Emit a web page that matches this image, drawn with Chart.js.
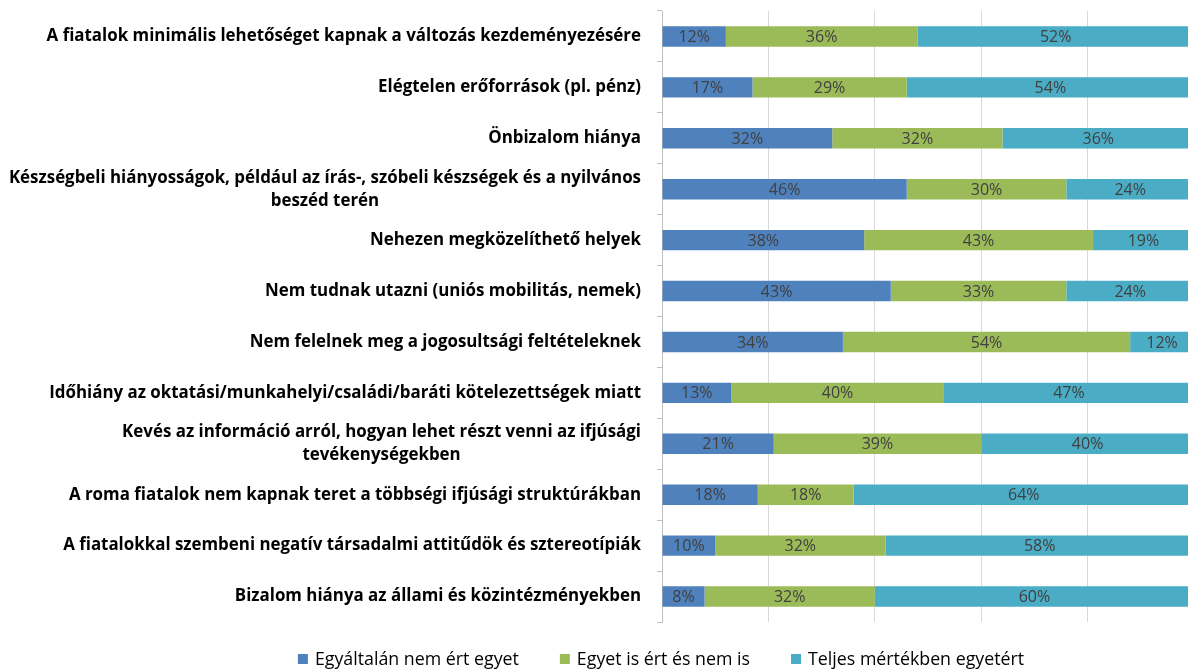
<!DOCTYPE html>
<html>
<head>
<meta charset="utf-8">
<script src="https://cdn.jsdelivr.net/npm/chart.js@4/dist/chart.umd.min.js"></script>
<style>
  html, body { margin: 0; padding: 0; background: #fff; overflow: hidden; }
  #wrap { width: 1188px; height: 669px; overflow: hidden; }
</style>
</head>
<body>
<div id="wrap"><canvas id="chart" width="1196" height="669"></canvas></div>
<script>
// categories (top to bottom)
const categories = [
    'A fiatalok minimális lehetőséget kapnak a változás kezdeményezésére',
    'Elégtelen erőforrások (pl. pénz)',
    'Önbizalom hiánya',
    ['Készségbeli hiányosságok, például az írás-, szóbeli készségek és a nyilvános', 'beszéd terén'],
    'Nehezen megközelíthető helyek',
    'Nem tudnak utazni (uniós mobilitás, nemek)',
    'Nem felelnek meg a jogosultsági feltételeknek',
    'Időhiány az oktatási/munkahelyi/családi/baráti kötelezettségek miatt',
    ['Kevés az információ arról, hogyan lehet részt venni az ifjúsági', 'tevékenységekben'],
    'A roma fiatalok nem kapnak teret a többségi ifjúsági struktúrákban',
    'A fiatalokkal szembeni negatív társadalmi attitűdök és sztereotípiák',
    'Bizalom hiánya az állami és közintézményekben'
];

// series values (%)
const notAgree = [12, 17, 32, 46, 38, 43, 34, 13, 21, 18, 10, 8];
const neutral  = [36, 29, 32, 30, 43, 33, 54, 40, 39, 18, 32, 32];
const agree    = [52, 54, 36, 24, 19, 24, 12, 47, 40, 64, 58, 60];

const seriesNames = ['Egyáltalán nem ért egyet', 'Egyet is ért és nem is', 'Teljes mértékben egyetért'];
const seriesColors = ['#4F81BD', '#9BBB59', '#4BACC6'];
const xTicks = [0, 20, 40, 60, 80, 100];

const fontFamily = '"Open Sans", Lato, sans-serif';

// category labels: block right aligned, lines centred inside the block
const yLabelPlugin = {
    id: 'yLabels',
    afterDraw(chart) {
        const ctx = chart.ctx;
        const scale = chart.scales.y;
        ctx.save();
        ctx.font = 'bold 16.9px ' + fontFamily;
        ctx.fillStyle = '#000';
        ctx.textBaseline = 'middle';
        ctx.textAlign = 'center';
        const right = scale.right - 21;
        const lineH = 23;
        categories.forEach((lab, i) => {
            const lines = Array.isArray(lab) ? lab : [lab];
            const w = Math.max(...lines.map(l => ctx.measureText(l).width));
            const cx = right - w / 2;
            const y = scale.getPixelForTick(i);
            const y0 = y - (lines.length - 1) * lineH / 2;
            lines.forEach((l, j) => ctx.fillText(l, cx, y0 + j * lineH));
        });
        ctx.restore();
    }
};

// percentage labels in the middle of every segment
const valueLabelPlugin = {
    id: 'valueLabels',
    afterDatasetsDraw(chart) {
        const ctx = chart.ctx;
        ctx.save();
        ctx.font = '16px ' + fontFamily;
        ctx.fillStyle = '#404040';
        ctx.textAlign = 'center';
        ctx.textBaseline = 'middle';
        chart.data.datasets.forEach((ds, di) => {
            const meta = chart.getDatasetMeta(di);
            meta.data.forEach((bar, i) => {
                const x = (bar.x + bar.base) / 2;
                ctx.fillText(ds.data[i] + '%', x, bar.y + 1);
            });
        });
        ctx.restore();
    }
};

// legend under the plot, Excel style
const legendPlugin = {
    id: 'bottomLegend',
    afterDraw(chart) {
        const ctx = chart.ctx;
        ctx.save();
        ctx.font = '17.8px ' + fontFamily;
        ctx.textBaseline = 'middle';
        ctx.textAlign = 'left';
        const box = 10, gap = 7, between = 41;
        const widths = seriesNames.map(n => box + gap + ctx.measureText(n).width);
        const total = widths.reduce((a, b) => a + b, 0) + between * (widths.length - 1);
        let x = 661 - total / 2;
        const y = 659;
        seriesNames.forEach((n, i) => {
            ctx.fillStyle = seriesColors[i];
            ctx.fillRect(x, y - box / 2, box, box);
            ctx.fillStyle = '#000';
            ctx.fillText(n, x + box + gap, y + 1);
            x += widths[i] + between;
        });
        ctx.restore();
    }
};

const ctx = document.getElementById('chart').getContext('2d');

new Chart(ctx, {
    type: 'bar',
    data: {
        labels: categories,
        datasets: seriesNames.map((name, i) => ({
            label: name,
            data: [notAgree, neutral, agree][i],
            backgroundColor: seriesColors[i]
        }))
    },
    options: {
        indexAxis: 'y',
        responsive: false,
        animation: false,
        barPercentage: 0.4,
        categoryPercentage: 1,
        layout: { padding: { top: 11, right: 2, left: 0, bottom: 47 } },
        scales: {
            x: {
                stacked: true,
                min: 0,
                max: 100,
                afterBuildTicks(scale) {
                    scale.ticks = xTicks.map(v => ({ value: v }));
                },
                ticks: { display: false },
                grid: { color: '#d9d9d9', drawTicks: false },
                border: { display: false }
            },
            y: {
                stacked: true,
                ticks: { display: false },
                grid: { drawOnChartArea: false, color: '#bfbfbf', tickLength: 5 },
                border: { display: true, color: '#bfbfbf' },
                afterFit(scale) { scale.width = 662; }
            }
        },
        plugins: {
            legend: { display: false },
            tooltip: { enabled: false }
        }
    },
    plugins: [yLabelPlugin, valueLabelPlugin, legendPlugin]
});
</script>
</body>
</html>
